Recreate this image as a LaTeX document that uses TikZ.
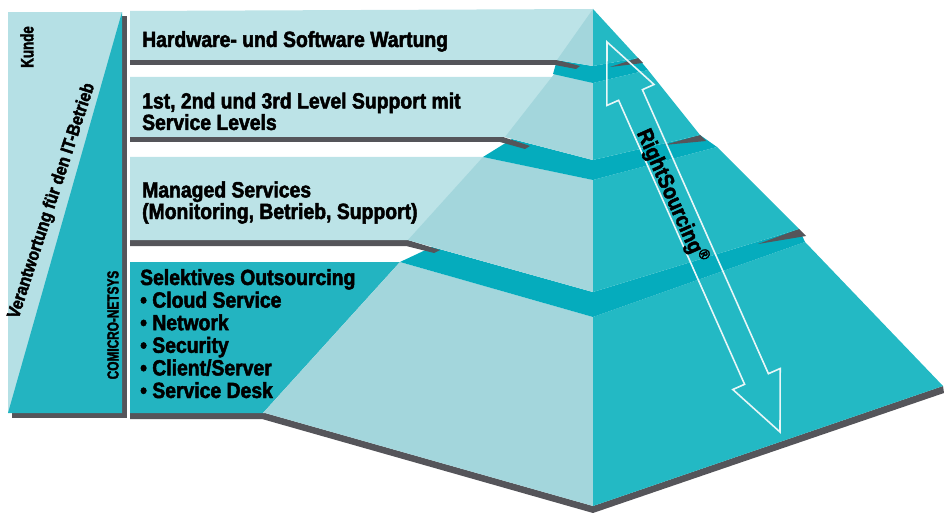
\documentclass[tikz,border=0pt]{standalone}
\usepackage{fontspec}
\setmainfont{Liberation Sans}
\newfontfamily\heavyfont{Liberation Sans Bold}[FakeStretch=0.88, FakeBold=2.2]
\newfontfamily\narrowfont{Liberation Sans Bold}[FakeStretch=0.74, FakeBold=2]

\definecolor{bandlight}{RGB}{188,227,231}
\definecolor{panellight}{RGB}{181,224,229}
\definecolor{facelight}{RGB}{163,214,220}
\definecolor{faceteal}{RGB}{35,185,196}
\definecolor{ledgeteal}{RGB}{5,172,189}
\definecolor{bandteal}{RGB}{35,180,193}
\definecolor{shadowgray}{RGB}{85,85,90}
\definecolor{arrowwhite}{RGB}{232,246,247}

\tikzset{
	shadow/.style={fill=shadowgray},
	ledge/.style={fill=ledgeteal},
	bandtext/.style={anchor=base west, inner sep=0pt, align=left,
		font=\heavyfont\fontsize{22}{20}\selectfont},
	sidetext/.style={inner sep=0pt, font=\narrowfont\fontsize{16}{16}\selectfont},
	arrowline/.style={draw=arrowwhite, line width=1.6pt, line join=miter}
}

\begin{document}
\begin{tikzpicture}[x=1pt,y=-1pt]
	\useasboundingbox (0,0) rectangle (944,513);
	% left panel
	\fill[shadow] (12,16) rectangle (127,418);
	\fill[panellight] (8,12) rectangle (122,413);
	\fill[bandteal] (122,12) -- (122,413) -- (8,413) -- cycle;
	\node[sidetext, rotate=90, font=\narrowfont\fontsize{18}{18}\selectfont] (kunde) at (27,47) {Kunde};
	\node[sidetext, rotate=72, font=\heavyfont\fontsize{18}{18}\selectfont] (verantwortung) at (52,201) {Verantwortung für den IT-Betrieb};
	\node[sidetext, rotate=90] (comicro) at (113,325) {COMICRO-NETSYS};
	% layer 4
	\fill[shadow] (130,413) -- (265,413) -- (593,506) -- (943,386) -- (944,393) -- (593,513) -- (262,419) -- (130,419) -- cycle;
	\fill[bandteal] (130,262) -- (400,262) -- (263,413) -- (130,413) -- cycle;
	\fill[facelight] (400,262) -- (593,317) -- (593,506) -- (265,413) -- (263,413) -- cycle;
	\fill[faceteal] (593,317) -- (805,242) -- (943,386) -- (593,506) -- cycle;
	\fill[ledge] (400,262) -- (593,317) -- (805,242) -- (799,229) -- (593,292) -- (432,247) -- cycle;
	% layer 3
	\fill[shadow] (130,240) -- (408,240) -- (440,250) -- (434,253) -- (406,246) -- (130,246) -- cycle;
	\fill[shadow] (799,229) -- (806,236) -- (758,244) -- cycle;
	\fill[bandlight] (130,157) -- (483,157) -- (593,180) -- (593,292) -- (408,240) -- (130,240) -- cycle;
	\fill[facelight] (483,157) -- (593,180) -- (593,292) -- (408,240) -- cycle;
	\fill[faceteal] (593,180) -- (717,147) -- (799,229) -- (593,292) -- cycle;
	\fill[ledge] (483,157) -- (593,180) -- (717,147) -- (700,135) -- (593,160) -- (512,139) -- cycle;
	% layer 2
	\fill[shadow] (130,137) -- (503,137) -- (530,146) -- (525,149) -- (500,142) -- (130,142) -- cycle;
	\fill[shadow] (700,135) -- (706,141) -- (664,145) -- cycle;
	\fill[bandlight] (130,77) -- (556,77) -- (593,83) -- (593,160) -- (505,137) -- (130,137) -- cycle;
	\fill[facelight] (555,73) -- (593,83) -- (593,160) -- (505,137) -- cycle;
	\fill[faceteal] (593,83) -- (648,70) -- (700,135) -- (593,160) -- cycle;
	\fill[ledge] (553,74) -- (593,83) -- (648,70) -- (638,58) -- (593,66) -- (557,60) -- cycle;
	% layer 1
	\fill[shadow] (130,60) -- (557,60) -- (580,66) -- (576,69) -- (555,65) -- (130,65) -- cycle;
	\fill[shadow] (638,58) -- (643,63) -- (610,67) -- cycle;
	\fill[bandlight] (130,11) -- (593,9) -- (593,66) -- (557,60) -- (130,60) -- cycle;
	\fill[facelight] (593,9) -- (593,66) -- (557,60) -- cycle;
	\fill[faceteal] (593,9) -- (638,58) -- (593,66) -- cycle;
	% band texts (base = last line)
	\node[bandtext] (wartung) at (142,47) {Hardware- und Software Wartung};
	\node[bandtext] (support) at (142,130) {1st, 2nd und 3rd Level Support mit\\Service Levels};
	\node[bandtext] (managed) at (142,219) {Managed Services\\(Monitoring, Betrieb, Support)};
	\node[bandtext, font=\heavyfont\fontsize{22}{22.6}\selectfont] (outsourcing) at (140,398) {Selektives Outsourcing\\• Cloud Service\\• Network\\• Security\\• Client/Server\\• Service Desk};
	% RightSourcing arrow
	\draw[arrowline] (607,42) -- (654,84.5) -- (642.4,89.7) -- (768.4,373.7) -- (780.2,368.5) -- (780,432) -- (732.8,389.5) -- (744.6,384.3) -- (618.6,100.3) -- (606.8,105.5) -- cycle;
	\node[rotate=-66.1, inner sep=0pt, font=\heavyfont\fontsize{22}{22}\selectfont] (rightsourcing) at (672,196) {RightSourcing\textsuperscript{®}};
\end{tikzpicture}
\end{document}
